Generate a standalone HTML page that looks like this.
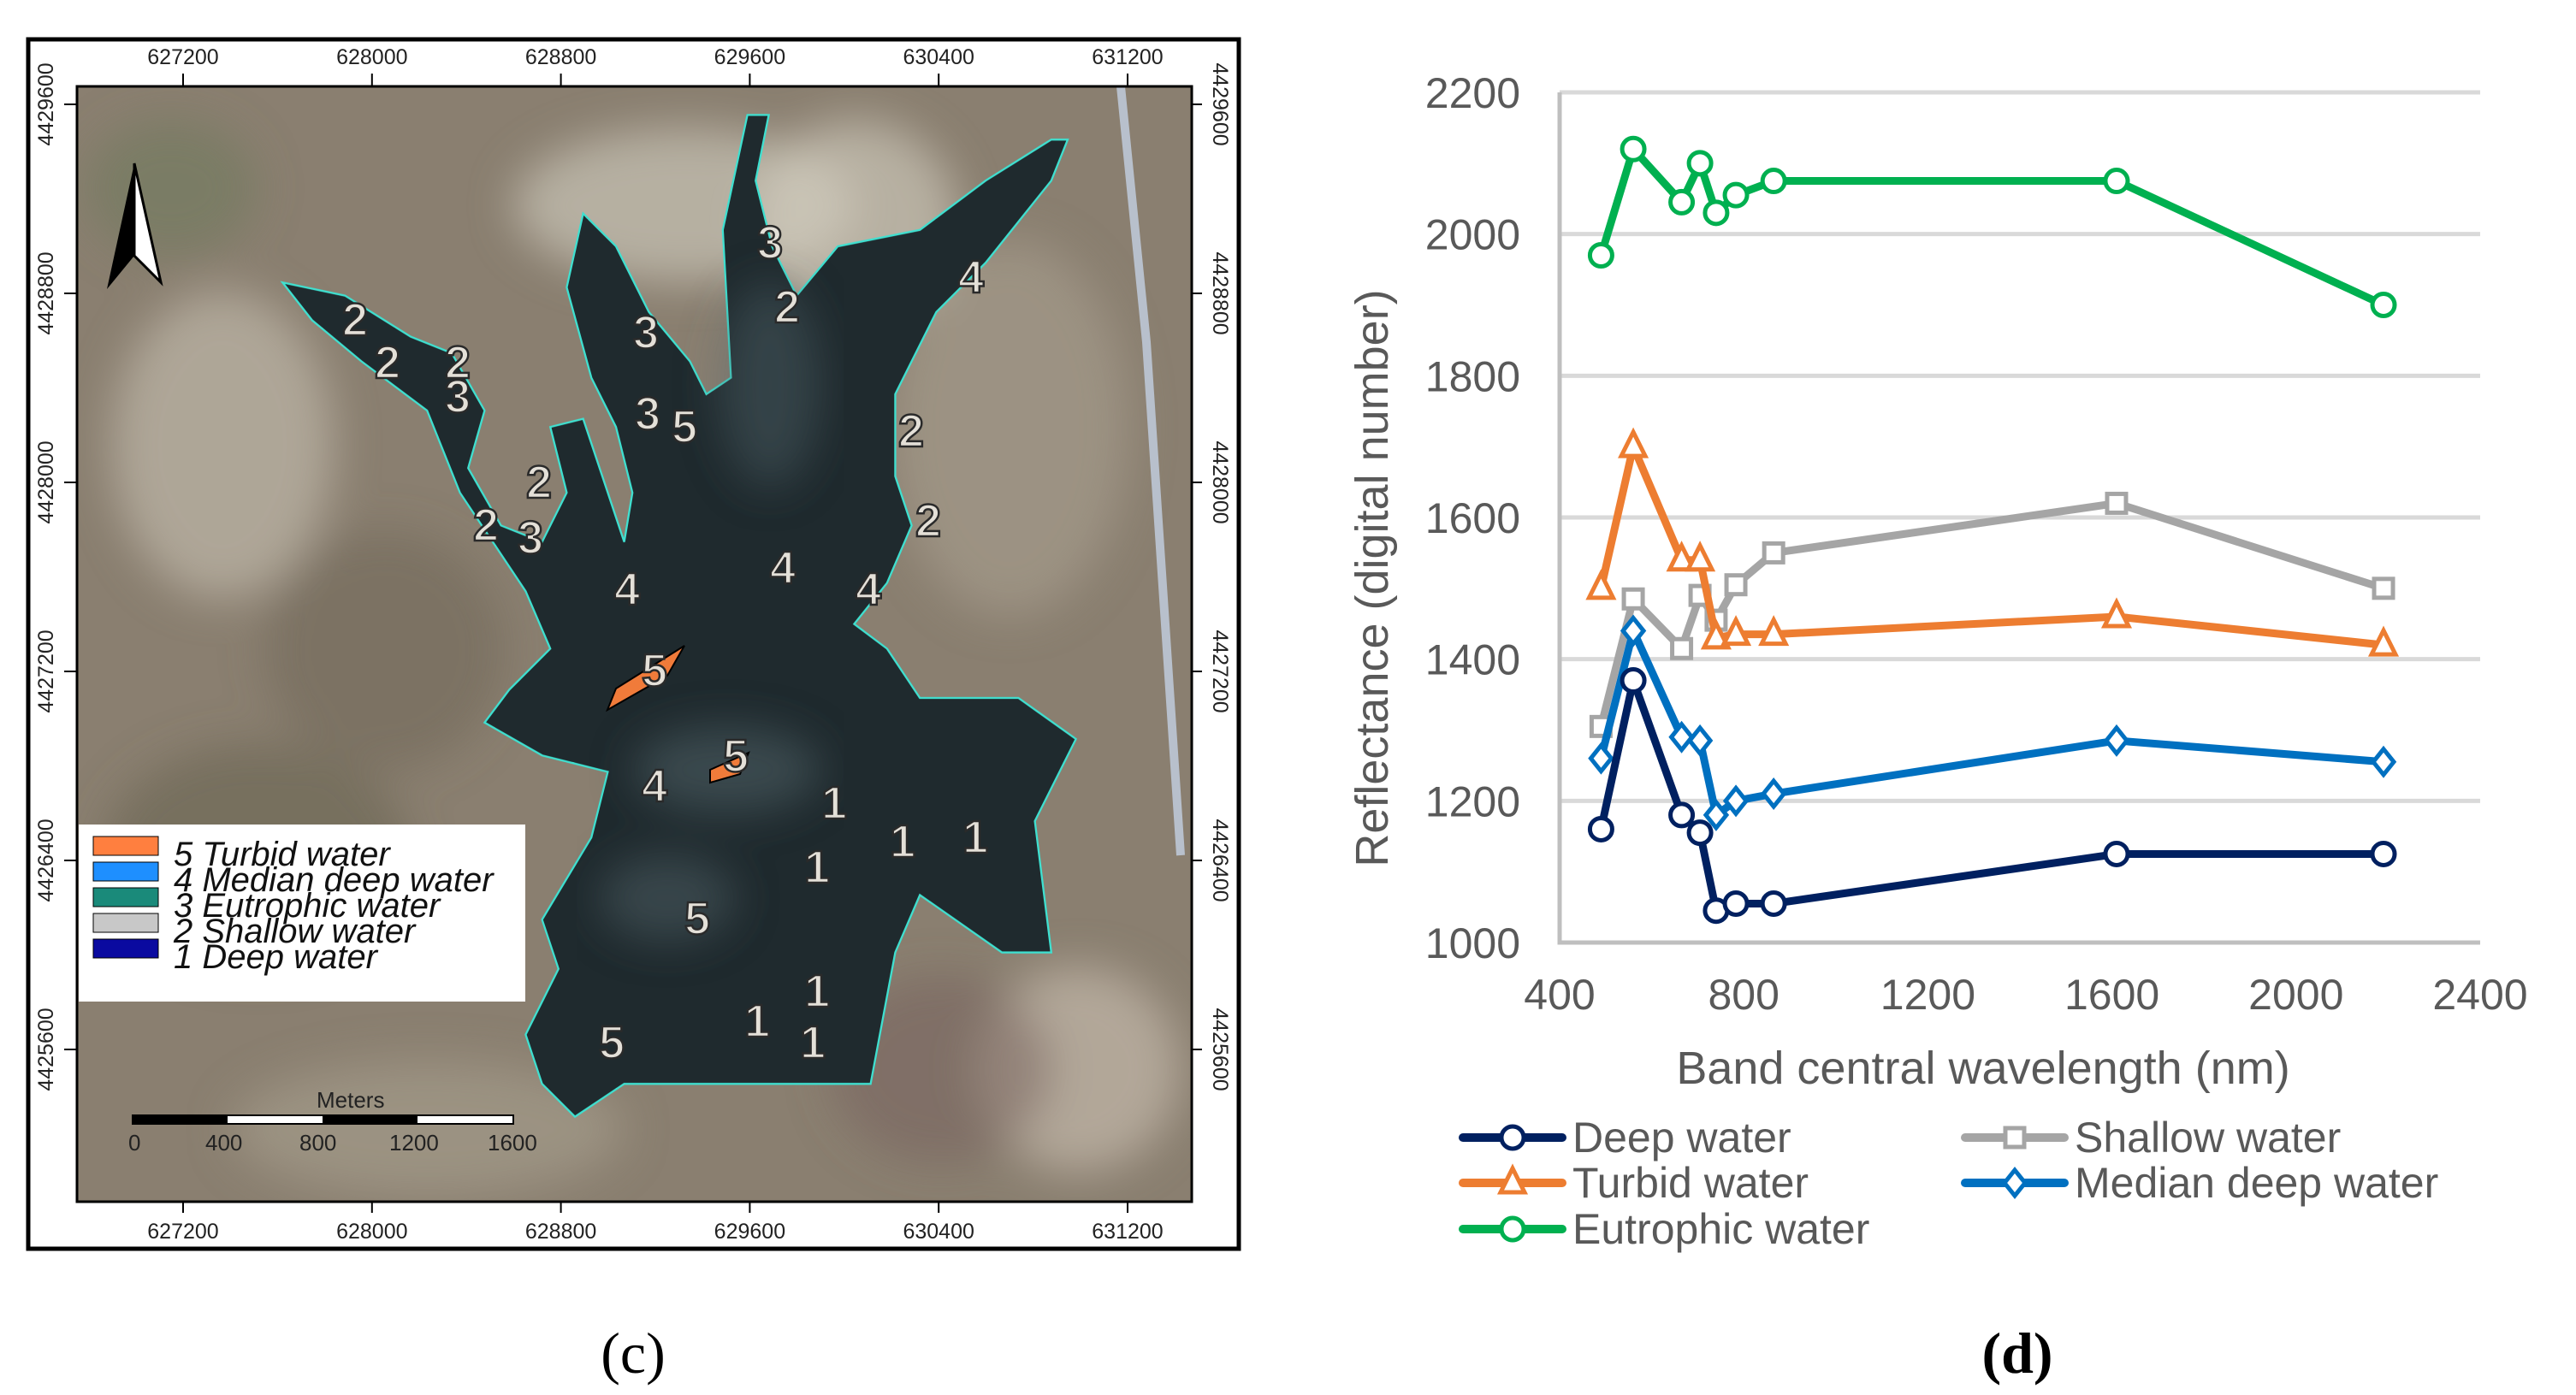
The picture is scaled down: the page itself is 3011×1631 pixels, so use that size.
<!DOCTYPE html>
<html><head><meta charset="utf-8"><style>
body{margin:0;background:#fff;width:3011px;height:1631px;overflow:hidden;}
svg{position:absolute;left:0;top:0;}
</style></head><body>
<svg id="fig" width="3011" height="1631" viewBox="0 0 3011 1631" xmlns="http://www.w3.org/2000/svg">
  <defs><filter id="blur"><feGaussianBlur stdDeviation="25"/></filter></defs>
  <g>
    <rect x="33" y="46" width="1415" height="1414" fill="#fff" stroke="#000" stroke-width="5"/>
    <clipPath id="mc"><rect x="90" y="101" width="1303" height="1304"/></clipPath>
    <g clip-path="url(#mc)">
      <rect x="90" y="101" width="1303" height="1304" fill="#8a7f70"/>
      <g filter="url(#blur)">
        <ellipse cx="260" cy="520" rx="130" ry="180" fill="#bdb7a8" opacity="0.7"/>
        <ellipse cx="800" cy="240" rx="200" ry="90" fill="#c9c4b6" opacity="0.7"/>
        <ellipse cx="1180" cy="500" rx="140" ry="220" fill="#a89f8f" opacity="0.6"/>
        <ellipse cx="1260" cy="1250" rx="120" ry="120" fill="#c3b8aa" opacity="0.7"/>
        <ellipse cx="300" cy="1000" rx="180" ry="130" fill="#6a6553" opacity="0.6"/>
        <ellipse cx="200" cy="220" rx="100" ry="80" fill="#6f7a5e" opacity="0.6"/>
        <ellipse cx="1100" cy="1250" rx="130" ry="110" fill="#76605c" opacity="0.5"/>
        <ellipse cx="500" cy="1320" rx="230" ry="80" fill="#a69f8d" opacity="0.6"/>
        <ellipse cx="1000" cy="260" rx="120" ry="120" fill="#d5d0c3" opacity="0.6"/>
        <ellipse cx="450" cy="760" rx="140" ry="140" fill="#6e6655" opacity="0.5"/>
      </g>
      <path d="M1310 101 L1340 400 L1380 1000" stroke="#b8c0cc" stroke-width="10" fill="none"/>
      <polygon transform="scale(1.92)" fill="#1f2a2e" stroke="#3fe0d0" stroke-width="1.2"
        points="172,172 210,180 250,205 275,215 295,250 285,285 305,320 330,330 345,300 335,260 355,255 380,330 385,300 375,260 360,230 345,175 355,130 375,150 395,190 420,220 430,240 445,230 440,140 455,70 468,70 460,110 470,150 485,180 510,150 560,140 600,110 640,85 650,85 640,110 600,160 570,190 545,240 545,290 555,320 540,355 520,380 540,395 560,425 620,425 655,450 645,470 630,500 640,580 610,580 560,545 545,580 530,660 440,660 380,660 350,680 330,660 320,630 340,590 330,560 360,510 370,470 330,460 295,440 310,420 335,395 320,360 300,330 280,300 260,250 220,220 190,195"/>
      <g filter="url(#blur)">
        <ellipse cx="850" cy="900" rx="110" ry="50" fill="#56686e" opacity="0.5"/>
        <ellipse cx="780" cy="1050" rx="80" ry="50" fill="#56686e" opacity="0.45"/>
        <ellipse cx="900" cy="450" rx="60" ry="120" fill="#56686e" opacity="0.4"/>
      </g>
      <polygon points="720,805 800,755 780,790 710,830" fill="#f07b3a" stroke="#000" stroke-width="2"/>
      <polygon points="830,900 875,880 865,905 830,915" fill="#f07b3a" stroke="#000" stroke-width="2"/>
      <g font-family="Liberation Sans, sans-serif" font-size="54" font-weight="bold" fill="#e4e0d8" stroke="#2a2a2a" stroke-width="2.5">
        <text x="400" y="392">2</text><text x="438" y="442">2</text><text x="520" y="442">2</text><text x="520" y="482">3</text>
        <text x="740" y="407">3</text><text x="885" y="302">3</text><text x="905" y="377">2</text><text x="1120" y="342">4</text>
        <text x="742" y="502">3</text><text x="785" y="517">5</text><text x="1050" y="522">2</text><text x="1070" y="627">2</text>
        <text x="615" y="582">2</text><text x="553" y="632">2</text><text x="605" y="647">3</text><text x="718" y="707">4</text>
        <text x="900" y="682">4</text><text x="1000" y="707">4</text><text x="750" y="802">5</text><text x="845" y="902">5</text>
        <text x="750" y="937">4</text><text x="960" y="957">1</text><text x="1040" y="1002">1</text><text x="1125" y="997">1</text>
        <text x="940" y="1032">1</text><text x="800" y="1092">5</text><text x="940" y="1177">1</text><text x="870" y="1212">1</text>
        <text x="935" y="1237">1</text><text x="700" y="1237">5</text>
      </g>
      <g>
        <polygon points="157,191 157,299 125,338" fill="#000"/>
        <polygon points="157,191 188,330 157,299" fill="#fff" stroke="#000" stroke-width="3"/>
      </g>
      <g font-family="Liberation Sans, sans-serif" font-size="26" fill="#222">
        <text x="370" y="1295">Meters</text>
        <rect x="155" y="1304" width="445" height="10" fill="#fff" stroke="#000" stroke-width="2"/>
        <rect x="155" y="1304" width="111" height="10" fill="#000"/>
        <rect x="377" y="1304" width="111" height="10" fill="#000"/>
        <text x="150" y="1345">0</text><text x="240" y="1345">400</text><text x="350" y="1345">800</text><text x="455" y="1345">1200</text><text x="570" y="1345">1600</text>
      </g>
    </g>
    <rect x="90" y="101" width="1303" height="1304" fill="none" stroke="#000" stroke-width="3"/>
    <g font-family="Liberation Sans, sans-serif" font-size="40" font-style="italic" fill="#111">
      <rect x="92" y="964" width="522" height="207" fill="#fff"/>
      <rect x="109" y="978" width="76" height="22" fill="#ff7f3f" stroke="#000" stroke-width="1"/>
      <rect x="109" y="1008" width="76" height="22" fill="#1e8fff" stroke="#000" stroke-width="1"/>
      <rect x="109" y="1038" width="76" height="22" fill="#1a8a7a" stroke="#000" stroke-width="1"/>
      <rect x="109" y="1068" width="76" height="22" fill="#c8c8c8" stroke="#000" stroke-width="1"/>
      <rect x="109" y="1098" width="76" height="22" fill="#0a0aa0" stroke="#000" stroke-width="1"/>
      <text x="203" y="1012">5 Turbid water</text>
      <text x="203" y="1042">4 Median deep water</text>
      <text x="203" y="1072">3 Eutrophic water</text>
      <text x="203" y="1102">2 Shallow water</text>
      <text x="203" y="1132">1 Deep water</text>
    </g>
    <g id="mapTicks" font-family="Liberation Sans, sans-serif" font-size="25" fill="#222"></g>
  </g>
  <text x="740" y="1605" font-family="Liberation Serif, serif" font-size="68" text-anchor="middle">(c)</text>
  <text x="2358" y="1605" font-family="Liberation Serif, serif" font-size="68" font-weight="bold" text-anchor="middle">(d)</text>
  <g id="chart"></g>
</svg>
<script>
const NS="http://www.w3.org/2000/svg";
const mapX=["627200","628000","628800","629600","630400","631200"];
const mapY=["4429600","4428800","4428000","4427200","4426400","4425600"];
const mt=document.getElementById('mapTicks');
function mk(tag,attrs,parent,txt){const e=document.createElementNS(NS,tag);for(const k in attrs)e.setAttribute(k,attrs[k]);if(txt!==undefined)e.textContent=txt;parent.appendChild(e);return e;}
mapX.forEach((l,i)=>{const x=214+i*220.8;
  const t1=mk('text',{x:x,y:75,'text-anchor':'middle'},mt,l);
  
  
  const t2=mk('text',{x:x,y:1448,'text-anchor':'middle'},mt,l);
  
  
  mk('line',{x1:x,y1:86,x2:x,y2:101,stroke:'#000','stroke-width':2},mt);
  mk('line',{x1:x,y1:1405,x2:x,y2:1418,stroke:'#000','stroke-width':2},mt);
});
mapY.forEach((l,i)=>{const y=122+i*221;
  const t1=mk('text',{x:0,y:0,'text-anchor':'middle',transform:`translate(62 ${y}) rotate(-90)`},mt,l);
  
  
  const t2=mk('text',{x:0,y:0,'text-anchor':'middle',transform:`translate(1418 ${y}) rotate(90)`},mt,l);
  
  
  mk('line',{x1:75,y1:y,x2:90,y2:y,stroke:'#000','stroke-width':2},mt);
  mk('line',{x1:1393,y1:y,x2:1405,y2:y,stroke:'#000','stroke-width':2},mt);
});

const wavelengths=[490,560,665,705,740,783,865,1610,2190];
const deepWater=[1160,1370,1180,1155,1045,1055,1055,1125,1125];
const shallowWater=[1305,1485,1415,1490,1455,1505,1550,1620,1500];
const turbidWater=[1500,1700,1540,1540,1430,1435,1435,1460,1420];
const medianDeepWater=[1260,1440,1290,1285,1180,1200,1210,1285,1255];
const eutrophicWater=[1970,2120,2045,2100,2030,2055,2075,2075,1900];
const xTicks=[400,800,1200,1600,2000,2400];
const yTicks=[1000,1200,1400,1600,1800,2000,2200];

const X0=1823,X1=2899,Y0=1102,Y1=108;
const xs=v=>X0+(v-400)/2000*(X1-X0);
const ys=v=>Y0-(v-1000)/1200*(Y0-Y1);
const ch=document.getElementById('chart');
const F='Liberation Sans, sans-serif';
yTicks.forEach(v=>{
  if(v>1000){const g=mk('line',{x1:X0,x2:X1,y1:ys(v),y2:ys(v),stroke:'#d9d9d9','stroke-width':5},ch);
  
  }
  const t=mk('text',{x:1777,y:ys(v)+18,'text-anchor':'end','font-family':F,'font-size':50,fill:'#595959'},ch,v);
  
  
});
const ax=mk('polyline',{points:`${X0},${Y1} ${X0},${Y0} ${X1},${Y0}`,fill:'none',stroke:'#bfbfbf','stroke-width':5},ch);


xTicks.forEach(v=>{
  const t=mk('text',{x:xs(v),y:1180,'text-anchor':'middle','font-family':F,'font-size':50,fill:'#595959'},ch,v);
  
  
});
const xt=mk('text',{x:2318,y:1267,'text-anchor':'middle','font-family':F,'font-size':54,fill:'#595959'},ch,'Band central wavelength (nm)');


const yt=mk('text',{x:0,y:0,'text-anchor':'middle','font-family':F,'font-size':54,fill:'#595959',transform:'translate(1622 676) rotate(-90)'},ch,'Reflectance (digital number)');



function marker(g,type,x,y,col){
  const a={fill:'#fff',stroke:col,'stroke-width':5};
  if(type==='circle')mk('circle',Object.assign({cx:x,cy:y,r:13},a),g);
  else if(type==='square')mk('rect',Object.assign({x:x-11,y:y-11,width:22,height:22},a),g);
  else if(type==='tri')mk('polygon',Object.assign({points:`${x},${y-17} ${x+14},${y+11} ${x-14},${y+11}`},a),g);
  else mk('polygon',Object.assign({points:`${x},${y-15} ${x+12},${y} ${x},${y+15} ${x-12},${y}`},a),g);
}
const series=[
  {name:'shallow-water',d:shallowWater,c:'#a5a5a5',m:'square'},
  {name:'turbid-water',d:turbidWater,c:'#ed7d31',m:'tri'},
  {name:'median-deep-water',d:medianDeepWater,c:'#0070c0',m:'diamond'},
  {name:'deep-water',d:deepWater,c:'#002060',m:'circle'},
  {name:'eutrophic-water',d:eutrophicWater,c:'#00b050',m:'circle'}
];
series.forEach(s=>{
  const g=mk('g',{},ch);
  
  
  const pl=mk('polyline',{points:wavelengths.map((w,i)=>xs(w)+','+ys(s.d[i])).join(' '),fill:'none',stroke:s.c,'stroke-width':9,'stroke-linejoin':'round'},g);
  
  
  wavelengths.forEach((w,i)=>marker(g,s.m,xs(w),ys(s.d[i]),s.c));
});
const legend=[
  {t:'Deep water',c:'#002060',m:'circle',x:1710,y:1330},
  {t:'Shallow water',c:'#a5a5a5',m:'square',x:2297,y:1330},
  {t:'Turbid water',c:'#ed7d31',m:'tri',x:1710,y:1383},
  {t:'Median deep water',c:'#0070c0',m:'diamond',x:2297,y:1383},
  {t:'Eutrophic water',c:'#00b050',m:'circle',x:1710,y:1437}
];
legend.forEach(l=>{
  const g=mk('g',{},ch);
  
  
  mk('line',{x1:l.x,x2:l.x+116,y1:l.y,y2:l.y,stroke:l.c,'stroke-width':10,'stroke-linecap':'round'},g);
  marker(g,l.m,l.x+58,l.y,l.c);
  mk('text',{x:l.x+128,y:l.y+17,'font-family':F,'font-size':50,fill:'#595959'},g,l.t);
});
</script>
</body></html>
